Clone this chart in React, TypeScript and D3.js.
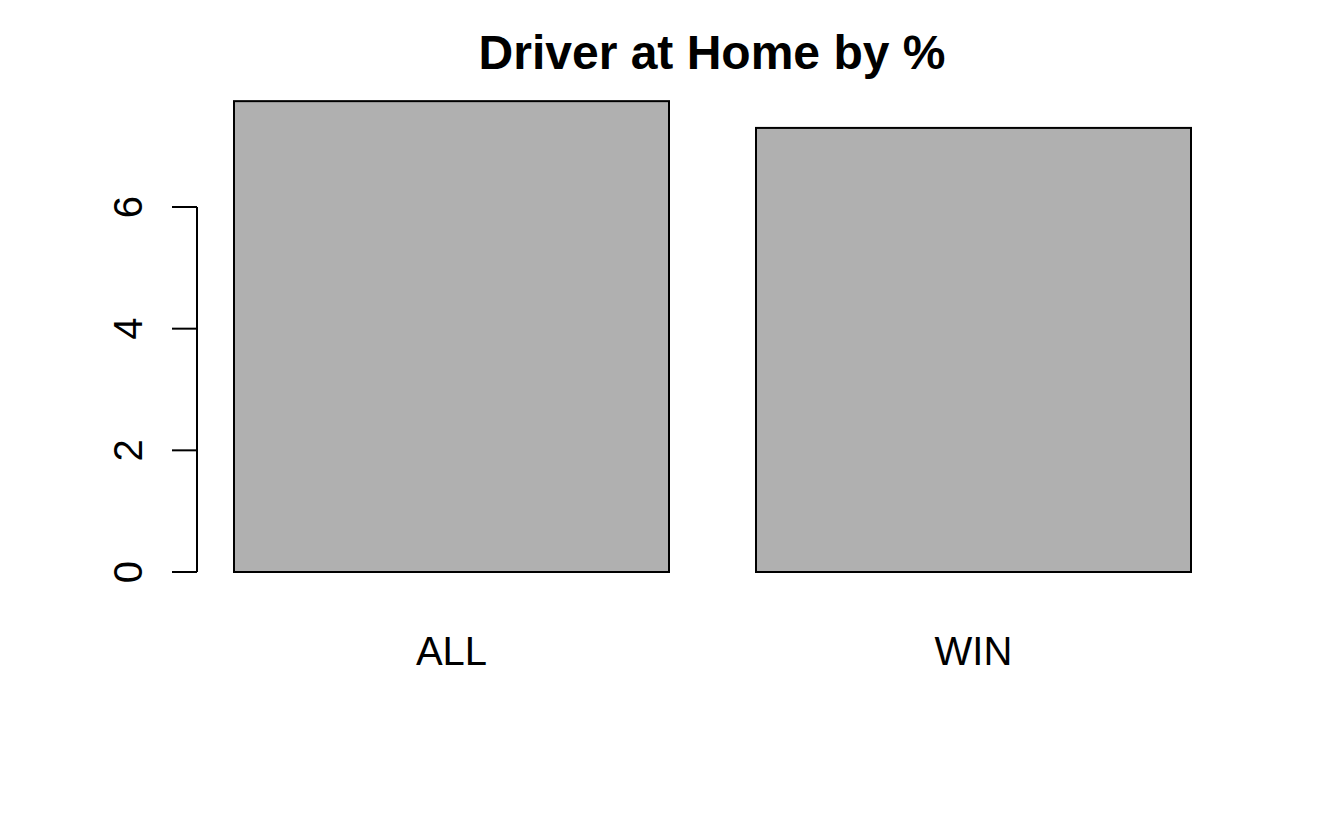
import React from "react";
import * as d3 from "d3";

const categories = ["ALL", "WIN"];
const values = [7.74, 7.3];
const yTicks = [0, 2, 4, 6];
const title = "Driver at Home by %";

const W = 1330;
const H = 822;

export default function App() {
  const x = d3
    .scaleBand<string>()
    .domain(categories)
    .range([234, 1191])
    .paddingInner(0.2 / 1.2)
    .paddingOuter(0);

  const y = d3.scaleLinear().domain([0, 6]).range([572, 207]);

  const font = "'Liberation Sans', Arial, Helvetica, sans-serif";

  return (
    <div style={{ position: "absolute", left: 0, top: 0 }}>
      <svg width={W} height={H} style={{ display: "block", background: "#fff" }}>
        <text
          x={712}
          y={69}
          textAnchor="middle"
          fontFamily={font}
          fontWeight="bold"
          fontSize={48}
          fill="#000"
        >
          {title}
        </text>

        {categories.map((c, i) => (
          <g key={c}>
            <rect
              x={x(c)}
              y={y(values[i])}
              width={x.bandwidth()}
              height={y(0) - y(values[i])}
              fill="#b0b0b0"
              stroke="#000"
              strokeWidth={2}
            />
            <text
              x={(x(c) ?? 0) + x.bandwidth() / 2}
              y={665}
              textAnchor="middle"
              fontFamily={font}
              fontSize={40}
              fill="#000"
            >
              {c}
            </text>
          </g>
        ))}

        <line
          x1={197}
          x2={197}
          y1={y(yTicks[0])}
          y2={y(yTicks[yTicks.length - 1])}
          stroke="#000"
          strokeWidth={2}
        />
        {yTicks.map((t) => (
          <g key={t}>
            <line x1={172} x2={197} y1={y(t)} y2={y(t)} stroke="#000" strokeWidth={2} />
            <text
              transform={`translate(142,${y(t)}) rotate(-90)`}
              textAnchor="middle"
              fontFamily={font}
              fontSize={40}
              fill="#000"
            >
              {t}
            </text>
          </g>
        ))}
      </svg>
    </div>
  );
}
